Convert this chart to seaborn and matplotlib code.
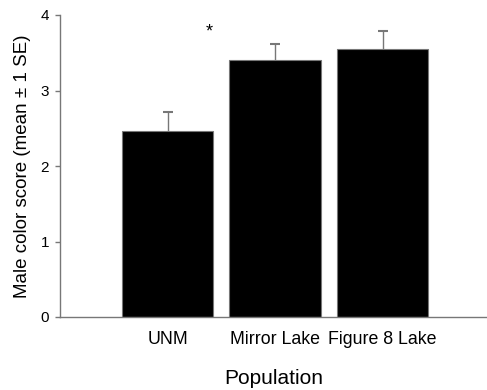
import matplotlib
matplotlib.use("Agg")
import matplotlib.pyplot as plt
import seaborn as sns
import pandas as pd

categories = ["UNM", "Mirror Lake", "Figure 8 Lake"]
means = [2.47, 3.41, 3.55]
se = [0.24, 0.20, 0.24]
yticks = [0, 1, 2, 3, 4]

sns.set_theme(style="white")
plt.rcParams['font.family'] = ['Liberation Sans', 'DejaVu Sans']
plt.rcParams['text.color'] = 'black'
plt.rcParams['axes.labelcolor'] = 'black'
plt.rcParams['xtick.color'] = 'black'
plt.rcParams['ytick.color'] = 'black'

df = pd.DataFrame({"Population": categories, "score": means})

fig = plt.figure(figsize=(4.87, 3.90), dpi=100)
ax = fig.add_axes([60/487, 1-317/390, 427/487, 302/390])

sns.barplot(data=df, x="Population", y="score", order=categories, color="black",
            errorbar=None, width=0.85, edgecolor="#777777", linewidth=0.8, ax=ax,
            saturation=1)
for p in ax.patches:
    p.set_facecolor("black")

_, caps, _ = ax.errorbar(range(len(categories)), means, yerr=[[0]*len(se), se], fmt="none",
                         ecolor="#777777", elinewidth=1, capsize=3.3, capthick=1.5, zorder=1)
caps[0].set_visible(False)

ax.set_xlim(-1.0, 2.97)
ax.set_ylim(0, 4)
ax.set_yticks(yticks)
ax.set_yticklabels([str(t) for t in yticks], fontsize=11)
ax.tick_params(axis="y", which="both", left=True, length=3.6, width=1, color="#777777",
               labelcolor="black", pad=4.3)
ax.tick_params(axis="x", bottom=False, length=0, labelsize=12.8, labelcolor="black", pad=10)

for s in ["top", "right"]:
    ax.spines[s].set_visible(False)
for s in ["left", "bottom"]:
    ax.spines[s].set_color("#777777")
    ax.spines[s].set_linewidth(1)

ax.set_xlabel("Population", fontsize=15, labelpad=15, color="black")
ax.set_ylabel("Male color score (mean \u00b1 1 SE)", fontsize=13.5, labelpad=7, color="black")

ax.text(0.386, 3.77, "*", ha="center", va="center", fontsize=13, color="black")

fig.savefig("out.png", dpi=100)
